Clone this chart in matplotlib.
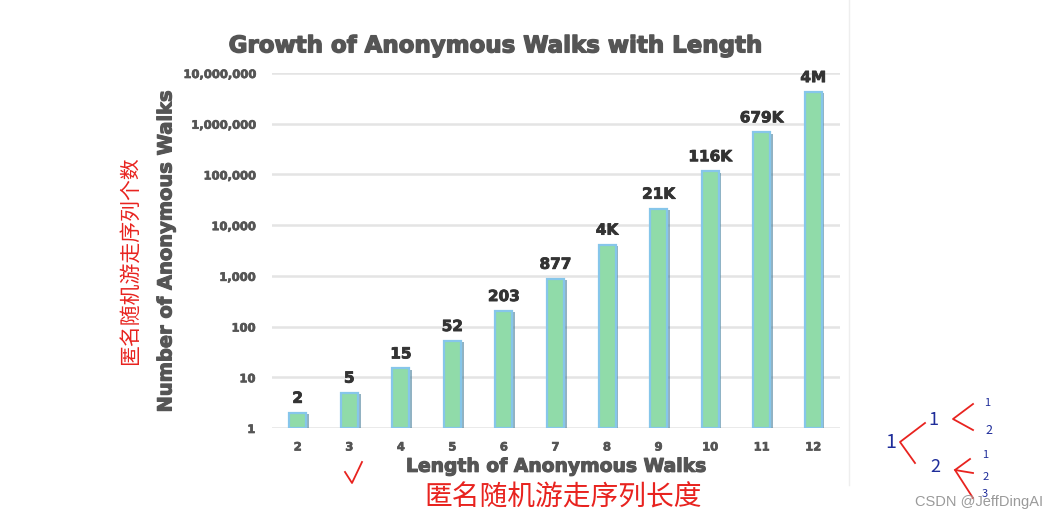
import matplotlib.pyplot as plt
import matplotlib.patheffects as pe
from matplotlib.lines import Line2D

# walk length -> number of anonymous walks
lengths = [2, 3, 4, 5, 6, 7, 8, 9, 10, 11, 12]
counts = [2, 5, 15, 52, 203, 877, 4140, 21147, 115975, 678570, 4213597]
count_labels = ["2", "5", "15", "52", "203", "877", "4K", "21K", "116K", "679K", "4M"]
ytick_vals = [1, 10, 100, 1000, 10000, 100000, 1000000, 10000000]
ytick_labels = ["1", "10", "100", "1,000", "10,000", "100,000", "1,000,000", "10,000,000"]

GRAY = "#555555"
CJK = ["Noto Sans CJK SC", "DejaVu Sans"]


def heavy(color, w=0.7):
    # fake a heavier weight than DejaVu Bold
    return [pe.withStroke(linewidth=w, foreground=color)]


fig = plt.figure(figsize=(10.57, 5.21), dpi=100)
ax = fig.add_axes([0.2573, 0.1785, 0.5374, 0.6814])

bars = ax.bar(lengths, [c - 1 for c in counts], bottom=1, width=0.33,
              color="#90dba9", edgecolor="#86c6ea", linewidth=1.6, zorder=3)
for b in bars:
    b.set_path_effects([pe.SimplePatchShadow(offset=(2, -1), shadow_rgbFace="#4a7f9a", alpha=0.6),
                        pe.Normal()])

ax.set_yscale("log")
ax.set_ylim(1, 1e7)
ax.set_xlim(1.5, 12.52)
ax.set_yticks(ytick_vals)
ax.set_yticklabels(ytick_labels)
ax.minorticks_off()
ax.set_xticks(lengths)
ax.set_xticklabels([str(x) for x in lengths])
ax.tick_params(length=0, labelsize=8.3, labelcolor=GRAY)
ax.tick_params(axis="y", pad=12)
ax.tick_params(axis="x", pad=9)
for lab in ax.get_xticklabels() + ax.get_yticklabels():
    lab.set_fontweight("bold")
    lab.set_path_effects(heavy(GRAY, 0.5))
ax.grid(axis="y", color="#e4e4e4", linewidth=1.8, zorder=0)
for s in ax.spines.values():
    s.set_visible(False)

for x, c, t in zip(lengths, counts, count_labels):
    ax.annotate(t, (x, c), xytext=(0, 5), textcoords="offset points",
                ha="center", va="bottom", fontsize=11, fontweight="bold", color="#333333",
                path_effects=heavy("#333333", 0.6))

fig.text(0.468, 0.912, "Growth of Anonymous Walks with Length", ha="center", va="center",
         fontsize=16.5, fontweight="bold", color=GRAY, path_effects=heavy(GRAY, 1.0))
fig.text(0.526, 0.105, "Length of Anonymous Walks", ha="center", va="center",
         fontsize=13.5, fontweight="bold", color=GRAY, path_effects=heavy(GRAY, 0.8))
fig.text(0.157, 0.518, "Number of Anonymous Walks", ha="center", va="center", rotation=90,
         fontsize=14, fontweight="bold", color=GRAY, path_effects=heavy(GRAY, 0.8))

# screenshot border
fig.add_artist(Line2D([0.803, 0.803], [0.07, 1.0], color="#eeeeee", linewidth=1))

# handwritten notes
RED = "#e8231f"
fig.text(0.123, 0.50, "匿名随机游走序列个数", family=CJK, rotation=90, ha="center", va="center",
         fontsize=15, fontweight="light", color=RED)
fig.text(0.533, 0.045, "匿名随机游走序列长度", family=CJK, ha="center", va="center",
         fontsize=20, fontweight="light", color=RED)

BLUE = "#1f2d9a"
blue_nums = [("1", 891, 443, 14), ("1", 933, 420, 13), ("2", 935, 467, 13),
             ("1", 987, 403, 8), ("2", 989, 430, 9), ("1", 985, 455, 8),
             ("2", 986, 477, 8), ("3", 985, 494, 8)]
for t, px, py, fs in blue_nums:
    fig.text(px / 1057, 1 - py / 521, t, family=CJK, ha="center", va="center",
             fontsize=fs, fontweight="light", color=BLUE)
strokes = [[(925, 423), (900, 442), (915, 463)],
           [(973, 404), (953, 419), (973, 430)],
           [(970, 459), (955, 470), (973, 473)],
           [(955, 470), (973, 498)],
           [(345, 472), (352, 483), (362, 462)]]  # last one is the tick mark
for st in strokes:
    fig.add_artist(Line2D([p[0] / 1057 for p in st], [1 - p[1] / 521 for p in st],
                          color=RED, linewidth=1.3))

fig.text(0.987, 0.036, "CSDN @JeffDingAI", ha="right", va="center", fontsize=10.5,
         color="#9a9a9a", family=["Liberation Sans", "DejaVu Sans"])

fig.savefig("out.png", dpi=100)
